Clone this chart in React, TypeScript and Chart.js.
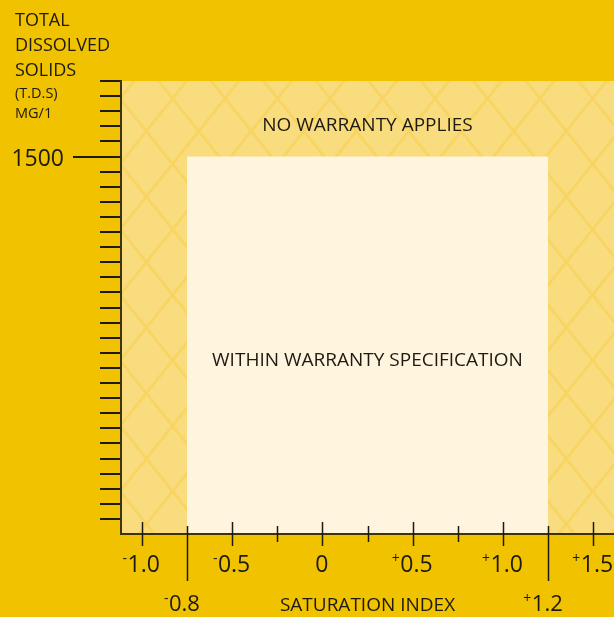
import React, { useEffect, useRef } from 'react';
import { Chart, registerables } from 'chart.js';
Chart.register(...registerables);

// ---- data ----
const xRange = [-1.115, 1.615];
const yRange = [0, 1800];
const yStep = 60;
const yLabelValue = 1500;
const majorTicks = [-1.0, -0.5, 0, 0.5, 1.0, 1.5];
const majorSigns = ['-', '-', '', '+', '+', '+'];
const majorLabels = ['1.0', '0.5', '0', '0.5', '1.0', '1.5'];
const minorTicks = [-0.25, 0.25, 0.75];
const limitTicks = [-0.75, 1.25];
const limitSigns = ['-', '+'];
const limitLabels = ['0.8', '1.2'];
const warrantyTDS = 1500;
const zoneTDS = 1800;
const titleLines = ['TOTAL', 'DISSOLVED', 'SOLIDS'];
const unitLines = ['(T.D.S)', 'MG/1'];
const xTitle = 'SATURATION INDEX';
const zoneText = 'NO WARRANTY APPLIES';
const warrantyText = 'WITHIN WARRANTY SPECIFICATION';

const FONT = '"Open Sans", "DejaVu Sans", sans-serif';
const INK = '#1d1a12';
const GOLD = '#F0C200';

function makePattern(ctx: CanvasRenderingContext2D) {
  const c = document.createElement('canvas');
  c.width = 105;
  c.height = 131;
  const g = c.getContext('2d')!;
  g.fillStyle = '#F9DC7E';
  g.fillRect(0, 0, 105, 131);
  g.strokeStyle = '#F7D560';
  g.lineWidth = 2.6;
  for (let k = -4; k <= 4; k++) {
    const x0 = k * 52.5;
    g.beginPath();
    g.moveTo(x0 - 52.5, -65.5);
    g.lineTo(x0 + 157.5, 196.5);
    g.stroke();
    g.beginPath();
    g.moveTo(x0 + 52.5, -65.5);
    g.lineTo(x0 - 157.5, 196.5);
    g.stroke();
  }
  const p = ctx.createPattern(c, 'repeat')!;
  try {
    p.setTransform(new DOMMatrix().translate(15, 32.9));
  } catch (e) {}
  return p;
}

// draws a number with a small raised sign in front of it, centred on cx
function signedLabel(ctx: CanvasRenderingContext2D, sign: string, num: string, cx: number, base: number, size: number) {
  ctx.font = `${size}px ${FONT}`;
  const numW = ctx.measureText(num).width;
  const signSize = Math.round(size * 0.62);
  let signW = 0;
  if (sign) {
    ctx.font = `${signSize}px ${FONT}`;
    signW = ctx.measureText(sign).width + 0.5;
  }
  const start = cx - (numW + signW) / 2;
  ctx.textAlign = 'left';
  if (sign) {
    ctx.font = `${signSize}px ${FONT}`;
    ctx.fillText(sign, start, base - size * 0.38);
  }
  ctx.font = `${size}px ${FONT}`;
  ctx.fillText(num, start + signW, base);
}

const overlay = {
  id: 'overlay',
  afterDraw(chart: any) {
    const ctx: CanvasRenderingContext2D = chart.ctx;
    const xs = chart.scales.x;
    const ys = chart.scales.y;
    const area = chart.chartArea;
    const axisY = area.bottom;
    const axisX = area.left;
    ctx.save();
    ctx.strokeStyle = INK;
    ctx.fillStyle = INK;

    // y tick marks from the scale's own ticks
    ctx.lineWidth = 2;
    ys.ticks.forEach((t: any) => {
      if (t.value <= yRange[0]) return;
      const py = Math.round(ys.getPixelForValue(t.value));
      const x1 = t.value === yLabelValue ? 73 : 100;
      ctx.beginPath();
      ctx.moveTo(x1, py);
      ctx.lineTo(axisX - 1, py);
      ctx.stroke();
    });

    // x tick marks
    ctx.lineWidth = 1.5;
    const vline = (v: number, a: number, b: number) => {
      const px = Math.round(xs.getPixelForValue(v)) + 0.5;
      ctx.beginPath();
      ctx.moveTo(px, axisY + a);
      ctx.lineTo(px, axisY + b);
      ctx.stroke();
    };
    majorTicks.forEach((v) => vline(v, -12, 12));
    minorTicks.forEach((v) => vline(v, -8, 8));
    limitTicks.forEach((v) => vline(v, -8, 47));

    // labels
    ctx.textBaseline = 'alphabetic';
    ctx.font = `23px ${FONT}`;
    ctx.textAlign = 'right';
    ctx.fillText(String(yLabelValue), 64, Math.round(ys.getPixelForValue(yLabelValue)) + 8.5);

    majorTicks.forEach((v, i) => {
      signedLabel(ctx, majorSigns[i], majorLabels[i], xs.getPixelForValue(v) - 0.5, axisY + 38, 23);
    });
    limitTicks.forEach((v, i) => {
      signedLabel(ctx, limitSigns[i], limitLabels[i], xs.getPixelForValue(v) - 5, axisY + 77, 22);
    });

    ctx.textAlign = 'center';
    ctx.font = `19px ${FONT}`;
    ctx.fillText(xTitle, xs.getPixelForValue(0.25), axisY + 77);
    ctx.fillText(zoneText, xs.getPixelForValue(0.25), ys.getPixelForValue(1629) + 6.8);
    ctx.fillText(warrantyText, xs.getPixelForValue(0.25), ys.getPixelForValue(695) + 6.8);

    ctx.textAlign = 'left';
    ctx.font = `18px ${FONT}`;
    titleLines.forEach((s, i) => ctx.fillText(s, 15, 25.7 + i * 25));
    ctx.font = `14.5px ${FONT}`;
    unitLines.forEach((s, i) => ctx.fillText(s, 15, 98 + i * 20));
    ctx.restore();
  },
};

export default function App() {
  const ref = useRef<HTMLCanvasElement>(null);
  useEffect(() => {
    document.body.style.margin = '0';
    const canvas = ref.current!;
    const ctx = canvas.getContext('2d')!;
    const pattern = makePattern(ctx);
    const chart = new Chart(ctx, {
      type: 'line',
      data: {
        datasets: [
          {
            label: 'Within warranty specification',
            data: [
              { x: limitTicks[0], y: warrantyTDS },
              { x: limitTicks[1], y: warrantyTDS },
            ],
            fill: 'origin',
            backgroundColor: '#FFF4DE',
            borderColor: 'rgba(0,0,0,0)',
            borderWidth: 0,
            pointRadius: 0,
          },
          {
            label: 'No warranty applies',
            data: [
              { x: xRange[0], y: zoneTDS },
              { x: xRange[1], y: zoneTDS },
            ],
            fill: 'origin',
            backgroundColor: pattern as any,
            borderColor: 'rgba(0,0,0,0)',
            borderWidth: 0,
            pointRadius: 0,
          },
        ],
      },
      options: {
        animation: false,
        responsive: false,
        events: [],
        layout: { padding: { top: 81, left: 0, right: 0, bottom: 0 } },
        plugins: { legend: { display: false }, tooltip: { enabled: false }, title: { display: false } },
        scales: {
          x: {
            type: 'linear',
            min: xRange[0],
            max: xRange[1],
            ticks: { display: false, stepSize: 0.25 },
            grid: { display: false, drawTicks: false },
            border: { display: true, color: '#3e3208', width: 2, z: 1 },
            afterFit: (s: any) => {
              s.height = 83;
            },
          },
          y: {
            type: 'linear',
            min: yRange[0],
            max: yRange[1],
            ticks: { display: false, stepSize: yStep },
            grid: { display: false, drawTicks: false },
            border: { display: true, color: '#3e3208', width: 2, z: 1 },
            afterFit: (s: any) => {
              s.width = 121;
            },
          },
        },
      },
      plugins: [overlay],
    } as any);
    return () => chart.destroy();
  }, []);
  return (
    <div style={{ width: 614, height: 617, background: GOLD }}>
      <canvas ref={ref} width={614} height={617} style={{ display: 'block' }} />
    </div>
  );
}
